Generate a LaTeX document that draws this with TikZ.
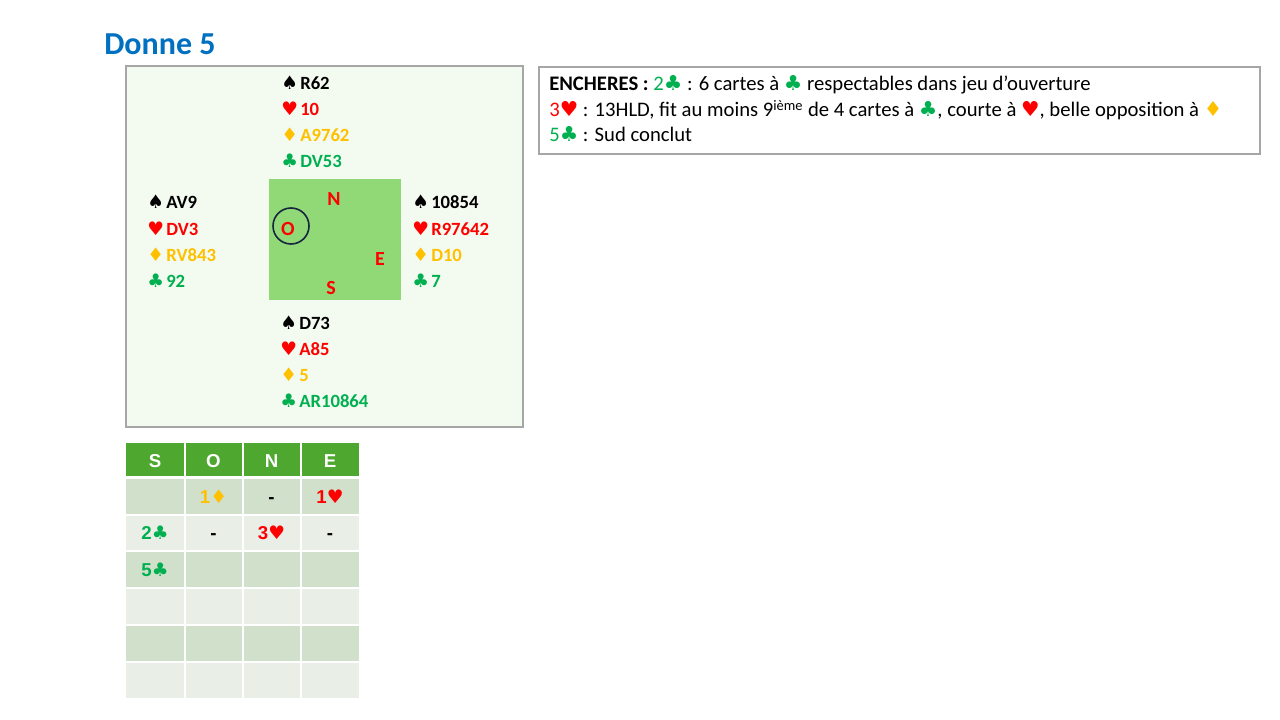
\documentclass[tikz,border=0pt]{standalone}
\usepackage{fontspec}
\setmainfont{Carlito}
\newfontfamily\suitfont{DejaVu Sans}
\newfontfamily\tablefont{Liberation Sans}
\usetikzlibrary{positioning}

\definecolor{bleutitre}{RGB}{0,112,192}
\definecolor{fonddonne}{RGB}{243,250,240}
\definecolor{bordgris}{RGB}{166,166,166}
\definecolor{vertcarre}{RGB}{144,217,118}
\definecolor{rouge}{RGB}{255,0,0}
\definecolor{or}{RGB}{255,192,0}
\definecolor{vert}{RGB}{0,176,80}
\definecolor{entete}{RGB}{78,167,46}
\definecolor{lignefonce}{RGB}{208,224,203}
\definecolor{ligneclair}{RGB}{233,239,231}
\definecolor{marine}{RGB}{23,37,64}

\newcommand\pique{{\suitfont ♠}}
\newcommand\coeur{{\suitfont ♥}}
\newcommand\carreau{{\suitfont ♦}}
\newcommand\trefle{{\suitfont ♣}}
% couleur en tete de ligne, largeur fixe
\newcommand\sym[1]{\makebox[14.25pt][l]{#1}}

\tikzset{
  ligne/.style={anchor=base west, inner sep=0pt, font=\fontsize{14}{16}\selectfont\bfseries},
  point/.style={anchor=base, inner sep=0pt, text=rouge, font=\fontsize{15}{17}\selectfont\bfseries},
  case/.style={anchor=base, inner sep=0pt, font=\tablefont\fontsize{14}{16}\selectfont\bfseries},
  texte/.style={anchor=base west, inner sep=0pt, font=\fontsize{15.5}{17}\selectfont}
}

\begin{document}
\begin{tikzpicture}[x=0.75pt, y=-0.75pt]
		%%%%% START %%%%%
		\useasboundingbox[fill=white] (0,0) rectangle (1280,720);
		
		\node[anchor=base west, inner sep=0pt, text=bleutitre, font=\fontsize{24}{27}\selectfont\bfseries] (titre) at (104,55) {Donne 5};
		
		% la donne
		\draw[line width=1.5pt, draw=bordgris, fill=fonddonne] (126,66) rectangle (523,427);
		\fill[vertcarre] (269,179) rectangle (401,300);
		\node[point] (N) at (334,206) {N};
		\node[point] (O) at (288,235) {O};
		\node[point] (E) at (380,265) {E};
		\node[point] (S) at (331,294) {S};
		\draw[line width=1.2pt, color=marine] (291,226) circle (18);
		
		% nord
		\node[ligne, text=black] (np) at (281,90) {\sym{\pique}R62};
		\node[ligne, text=rouge] (nc) at (281,116) {\sym{\coeur}10};
		\node[ligne, text=or] (nk) at (281,142) {\sym{\carreau}A9762};
		\node[ligne, text=vert] (nt) at (281,168) {\sym{\trefle}DV53};
		
		% ouest
		\node[ligne, text=black] (op) at (147,209) {\sym{\pique}AV9};
		\node[ligne, text=rouge] (oc) at (147,235) {\sym{\coeur}DV3};
		\node[ligne, text=or] (ok) at (147,261) {\sym{\carreau}RV843};
		\node[ligne, text=vert] (ot) at (147,287) {\sym{\trefle}92};
		
		% est
		\node[ligne, text=black] (ep) at (412,209) {\sym{\pique}10854};
		\node[ligne, text=rouge] (ec) at (412,235) {\sym{\coeur}R97642};
		\node[ligne, text=or] (ek) at (412,261) {\sym{\carreau}D10};
		\node[ligne, text=vert] (et) at (412,287) {\sym{\trefle}7};
		
		% sud
		\node[ligne, text=black] (sp) at (280,329) {\sym{\pique}D73};
		\node[ligne, text=rouge] (sc) at (280,355) {\sym{\coeur}A85};
		\node[ligne, text=or] (sk) at (280,381) {\sym{\carreau}5};
		\node[ligne, text=vert] (st) at (280,407) {\sym{\trefle}AR10864};
		
		% tableau des encheres
		\fill[entete] (126,443) rectangle (359,477);
		\fill[lignefonce] (126,477) rectangle (359,514);
		\fill[ligneclair] (126,514) rectangle (359,551);
		\fill[lignefonce] (126,551) rectangle (359,588);
		\fill[ligneclair] (126,588) rectangle (359,625);
		\fill[lignefonce] (126,625) rectangle (359,662);
		\fill[ligneclair] (126,662) rectangle (359,698);
		\draw[line width=1.5pt, white] (184.5,443) -- (184.5,698);
		\draw[line width=1.5pt, white] (242.5,443) -- (242.5,698);
		\draw[line width=1.5pt, white] (300.5,443) -- (300.5,698);
		\draw[line width=2.5pt, white] (126,477.5) -- (359,477.5);
		\draw[line width=1.5pt, white] (126,514.5) -- (359,514.5);
		\draw[line width=1.5pt, white] (126,550.5) -- (359,550.5);
		\draw[line width=1.5pt, white] (126,587.5) -- (359,587.5);
		\draw[line width=1.5pt, white] (126,624.5) -- (359,624.5);
		\draw[line width=1.5pt, white] (126,661.5) -- (359,661.5);
		
		\node[case, text=white] (hS) at (155,467) {S};
		\node[case, text=white] (hO) at (213.5,467) {O};
		\node[case, text=white] (hN) at (271.5,467) {N};
		\node[case, text=white] (hE) at (330,467) {E};
		
		\node[case, text=or] (b1) at (213.5,503) {1\carreau};
		\node[case, text=black] (b2) at (271.5,503) {-};
		\node[case, text=rouge] (b3) at (330,503) {1\coeur};
		\node[case, text=vert] (b4) at (155,539) {2\trefle};
		\node[case, text=black] (b5) at (213.5,539) {-};
		\node[case, text=rouge] (b6) at (271.5,539) {3\coeur};
		\node[case, text=black] (b7) at (330,539) {-};
		\node[case, text=vert] (b8) at (155,576) {5\trefle};
		
		% commentaire
		\draw[line width=0.8pt, draw=bordgris] (539,67) rectangle (1260,154);
		\node[texte] (l1) at (549,91) {\textbf{ENCHERES :} \textcolor{vert}{2\trefle} : 6 cartes à \textcolor{vert}{\trefle} respectables dans jeu d’ouverture};
		\node[texte] (l2) at (549,117) {\textcolor{rouge}{3\coeur} : 13HLD, fit au moins 9\textsuperscript{ième} de 4 cartes à \textcolor{vert}{\trefle}, courte à \textcolor{rouge}{\coeur}, belle opposition à \textcolor{or}{\carreau}};
		\node[texte] (l3) at (549,142) {\textcolor{vert}{5\trefle} : Sud conclut};
		
		%%%%% END %%%%%
	\end{tikzpicture}
\end{document}
